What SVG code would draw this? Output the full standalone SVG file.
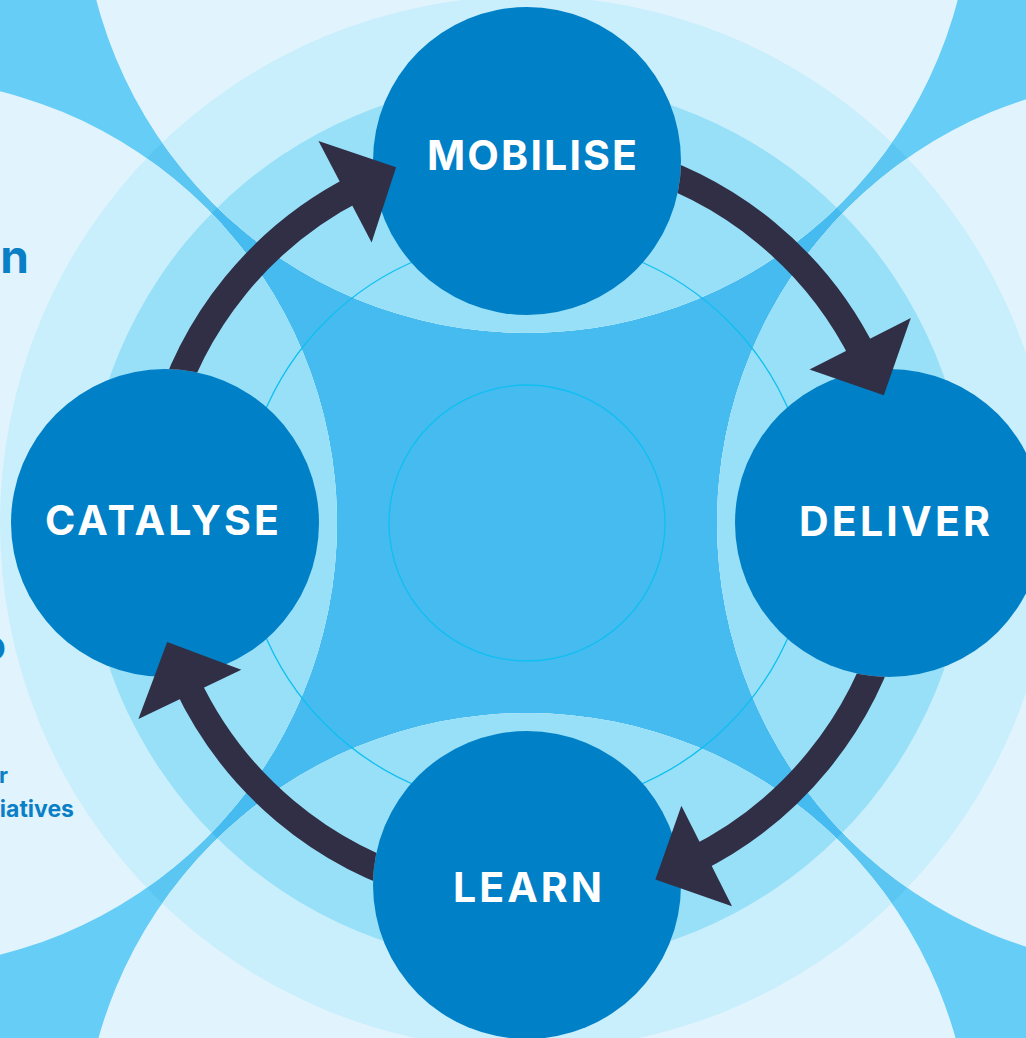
<svg xmlns="http://www.w3.org/2000/svg" width="1026" height="1038" viewBox="0 0 1026 1038">
  <style>
    .node { fill: #0080C7; }
    .label { fill: #FFFFFF; font-family: Inter, "Open Sans", "Liberation Sans", sans-serif; font-weight: 700; font-size: 41px; }
    .shaft { fill: none; stroke: #302F46; stroke-width: 27; stroke-linecap: butt; }
    .head { fill: #302F46; }
    .ring { fill: none; stroke: #0FBFF1; stroke-width: 1.3; }
    .side { fill: #0A7FC5; font-family: Inter, "Open Sans", "Liberation Sans", sans-serif; font-weight: 700; }
  </style>
  <defs>
    <!-- four large soft discs around the cycle -->
    <clipPath id="petals">
      <circle cx="527" cy="-112" r="445"/>
      <circle cx="-108" cy="523" r="445"/>
      <circle cx="1162" cy="523" r="445"/>
      <circle cx="527" cy="1158" r="445"/>
    </clipPath>
    <!-- hides arrow shafts where they pass under a node -->
    <mask id="offNodes" maskUnits="userSpaceOnUse" x="0" y="0" width="1026" height="1038">
      <rect x="0" y="0" width="1026" height="1038" fill="#fff"/>
      <circle cx="527" cy="161" r="154" fill="#000"/>
      <circle cx="165" cy="523" r="154" fill="#000"/>
      <circle cx="889" cy="523" r="154" fill="#000"/>
      <circle cx="527" cy="885" r="154" fill="#000"/>
    </mask>
  </defs>

  <!-- background bands -->
  <g id="background">
    <rect x="0" y="0" width="1026" height="1038" fill="#66CDF6"/>
    <circle cx="527" cy="523" r="527" fill="#5BC6F2"/>
    <circle cx="527" cy="523" r="442" fill="#45BBF0"/>
    <g clip-path="url(#petals)">
      <rect x="0" y="0" width="1026" height="1038" fill="#E1F4FD"/>
      <circle cx="527" cy="523" r="527" fill="#C9EEFC"/>
      <circle cx="527" cy="523" r="442" fill="#97E0F8"/>
    </g>
    <circle class="ring" cx="527" cy="523" r="285"/>
    <circle class="ring" cx="527" cy="523" r="138"/>
  </g>

  <!-- text running in from the neighbouring column -->
  <g id="side-text">
    <text class="side" x="29" y="273" font-size="46" text-anchor="end">n</text>
    <text class="side" x="6" y="660" font-size="42" text-anchor="end">o</text>
    <text class="side" x="8" y="783" font-size="22" text-anchor="end">r</text>
    <text class="side" x="74" y="817" font-size="23" text-anchor="end">iatives</text>
  </g>

  <!-- cycle nodes -->
  <g id="node-mobilise">
    <circle class="node" cx="527" cy="161" r="154"/>
    <text class="label" x="427" y="170" textLength="210" lengthAdjust="spacing">MOBILISE</text>
  </g>
  <g id="node-deliver">
    <circle class="node" cx="889" cy="523" r="154"/>
    <text class="label" x="799" y="536" textLength="191" lengthAdjust="spacing">DELIVER</text>
  </g>
  <g id="node-learn">
    <circle class="node" cx="527" cy="885" r="154"/>
    <text class="label" x="453" y="902" textLength="149" lengthAdjust="spacing">LEARN</text>
  </g>
  <g id="node-catalyse">
    <circle class="node" cx="165" cy="523" r="154"/>
    <text class="label" x="45" y="535" textLength="234" lengthAdjust="spacing">CATALYSE</text>
  </g>

  <!-- clockwise arrows between the nodes -->
  <g id="connectors">
    <g mask="url(#offNodes)">
      <path class="shaft" d="M163.8,425.7 A376,376 0 0 1 357.5,187.4"/>
      <path class="shaft" d="M624.3,159.8 A376,376 0 0 1 864.1,356.4"/>
      <path class="shaft" d="M890.2,620.3 A376,376 0 0 1 694.2,859.8"/>
      <path class="shaft" d="M429.7,886.2 A376,376 0 0 1 186.2,681.9"/>
    </g>
    <polygon class="head" points="318.5,140.9 396.1,167.3 371.6,242.4"/>
    <polygon class="head" points="910.8,318 883.8,395.2 809.5,369.6"/>
    <polygon class="head" points="732,906.3 655.4,879.6 681.4,805.7"/>
    <polygon class="head" points="138.4,719 167.2,642 241.3,669.8"/>
  </g>
</svg>
